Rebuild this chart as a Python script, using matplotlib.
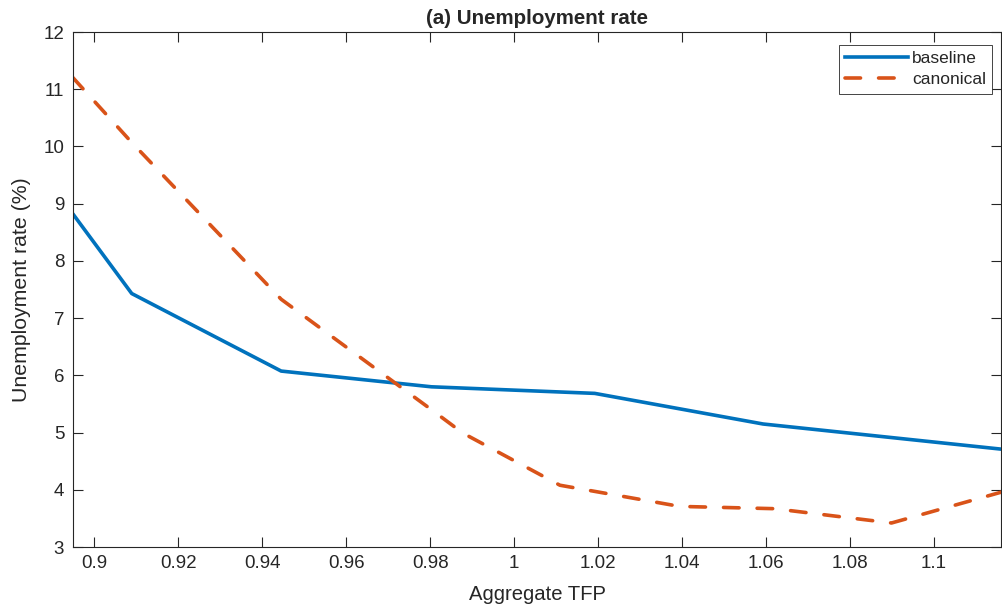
import matplotlib
matplotlib.use('Agg')
import matplotlib.pyplot as plt

plt.rcParams['font.family'] = ['Liberation Sans', 'DejaVu Sans']

# Datos
tfp_base = [0.8948, 0.9089, 0.9445, 0.9803, 1.0192, 1.0593, 1.1161]
u_base = [8.83, 7.43, 6.075, 5.80, 5.685, 5.15, 4.71]

tfp_canon = [0.8948, 0.9089, 0.9445, 0.9803, 0.9878, 1.0109, 1.0394, 1.0620, 1.0899, 1.1161]
u_canon = [11.21, 10.07, 7.33, 5.40, 4.99, 4.08, 3.71, 3.67, 3.42, 3.96]

xticks = [0.9, 0.92, 0.94, 0.96, 0.98, 1.0, 1.02, 1.04, 1.06, 1.08, 1.1]
xticklabels = ['0.9', '0.92', '0.94', '0.96', '0.98', '1', '1.02', '1.04', '1.06', '1.08', '1.1']
yticks = [3, 4, 5, 6, 7, 8, 9, 10, 11, 12]

gris = '#262626'

fig = plt.figure(figsize=(10.02, 6.08), dpi=100)
ax = fig.add_axes([0.0724, 0.1003, 0.9271, 0.8470])

ax.plot(tfp_base, u_base, color='#0072BD', lw=2.6, label='baseline')
ax.plot(tfp_canon, u_canon, color='#D95319', lw=2.6, linestyle=(0, (4.3, 5.0)),
        dash_capstyle='round', label='canonical')

ax.set_xlim(0.8948, 1.1161)
ax.set_ylim(3, 12)
ax.set_xticks(xticks)
ax.set_xticklabels(xticklabels)
ax.set_yticks(yticks)

for s in ax.spines.values():
    s.set_color(gris)
    s.set_linewidth(0.8)
ax.tick_params(direction='in', length=7, width=0.8, color=gris, labelcolor=gris,
               labelsize=13.5, top=True, right=True, pad=6)

ax.set_xlabel('Aggregate TFP', fontsize=14.6, color=gris, labelpad=9)
ax.set_ylabel('Unemployment rate (%)', fontsize=15.3, color=gris, labelpad=9)
ax.set_title('(a) Unemployment rate', fontsize=14.8, fontweight='bold', color=gris, pad=6)

leg = ax.legend(loc='upper right', bbox_to_anchor=(0.9898, 0.9748), borderaxespad=0,
                fontsize=12.5, fancybox=False, framealpha=1, edgecolor=gris,
                handlelength=3.6, handletextpad=0.25, labelspacing=0.35,
                borderpad=0.35)
leg.get_frame().set_linewidth(0.6)
for t in leg.get_texts():
    t.set_color(gris)

fig.savefig('out.png', dpi=100)
